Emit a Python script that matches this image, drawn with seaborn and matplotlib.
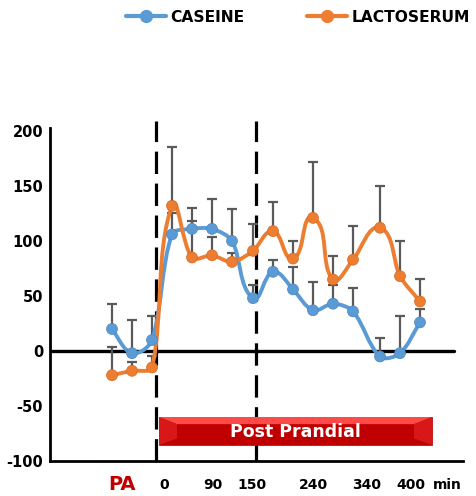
import numpy as np
import matplotlib
matplotlib.use("Agg")
import matplotlib.pyplot as plt
import seaborn as sns
import pandas as pd
from matplotlib.path import Path
from matplotlib.patches import PathPatch, Rectangle, Polygon
from matplotlib.lines import Line2D
import matplotlib.transforms as mtransforms

sns.set_style("white")
plt.rcParams['font.family'] = ['DejaVu Sans']
plt.rcParams['text.color'] = 'black'
plt.rcParams['ytick.color'] = 'black'
plt.rcParams['xtick.color'] = 'black'

# ---- data ----
sample_pos = [0, 1, 2, 3, 4, 5, 6, 7.05, 8.05, 9.05, 10.05, 11.05, 12.05, 13.4, 14.4, 15.4]
caseine = [20, -2, 10, 106, 111, 111, 100, 48, 72, 56, 37, 43, 36, -5, -2, 26]
caseine_err = [23, 30, 22, 19, 19, 27, 29, 12, 11, 20, 26, 17, 21, 17, 34, 12]
lacto = [-22, -18, -15, 132, 85, 87, 81, 91, 109, 84, 121, 65, 83, 112, 68, 45]
lacto_err = [26, 8, 10, 53, 33, 17, 8, 24, 26, 16, 51, 21, 31, 38, 32, 20]
series_names = ["CASEINE", "LACTOSERUM"]
tick_pos = [2.2, 5, 7.2, 10.3, 13.55, 15.8]
label_pos = [0.5, 2.6, 5.05, 7.0, 10.05, 12.75, 14.95, 16.75]
label_txt = ["PA", "0", "90", "150", "240", "340", "400", "min"]
yticks = [-100, -50, 0, 50, 100, 150, 200]
phase_lines = [2.2, 7.2]
banner_text = "Post Prandial"

blue = "#5B9BD5"
orange = "#ED7D31"
gray = "#5A5A5A"

df = pd.DataFrame({
    "x": sample_pos * 2,
    "y": caseine + lacto,
    "serie": [series_names[0]] * len(caseine) + [series_names[1]] * len(lacto),
})

fig = plt.figure(figsize=(4.77, 4.96), dpi=100)
ax = fig.add_axes([50 / 477, 1 - 461 / 496, (463 - 50) / 477, (461 - 128) / 496])
ax.set_xlim(-3.1, 17.55)
ax.set_ylim(-100, 202.7)


def smooth_path(xs, ys, s=0.3):
    # smoothing computed in display space, control distance proportional to segment length
    pts = ax.transData.transform(np.column_stack([xs, ys]).astype(float))
    n = len(pts)
    tang = []
    for i in range(n):
        a = pts[i - 1] if i > 0 else pts[i]
        b = pts[i + 1] if i < n - 1 else pts[i]
        d = b - a
        tang.append(d / (np.hypot(*d) + 1e-9))
    verts = [pts[0]]
    codes = [Path.MOVETO]
    for i in range(n - 1):
        p1, p2 = pts[i], pts[i + 1]
        L = np.hypot(*(p2 - p1))
        c1 = p1 + tang[i] * L * s
        c2 = p2 - tang[i + 1] * L * s
        verts += [c1, c2, p2]
        codes += [Path.CURVE4] * 3
    verts = ax.transData.inverted().transform(np.array(verts))
    return Path(verts, codes)


# error bars (upper only)
for vals, errs in [(caseine, caseine_err), (lacto, lacto_err)]:
    ax.errorbar(sample_pos, vals, yerr=[np.zeros(len(errs)), errs], fmt='none',
                ecolor=gray, elinewidth=1.6, capsize=3.5, capthick=1.6, zorder=2)

# smooth lines
for vals, col in [(caseine, blue), (lacto, orange)]:
    ax.add_patch(PathPatch(smooth_path(sample_pos, vals), facecolor='none',
                           edgecolor=col, lw=2.8, zorder=3, capstyle='round'))

# markers
sns.scatterplot(data=df, x="x", y="y", hue="serie", palette=[blue, orange],
                s=62, linewidth=0.5, ax=ax, zorder=4, legend=False)
ax.collections[-1].set_edgecolor(["#4A86BE"] * len(caseine) + ["#D56A20"] * len(lacto))

# zero line
ax.axhline(0, xmin=0, xmax=(454 - 50) / 413, color='black', lw=2.4, zorder=1)

# dashed phase lines
ax.vlines(phase_lines, -100, 209, colors='black', linestyles=(0, (7, 3)),
          lw=2.3, clip_on=False, zorder=1)

# banner
bx0, bx1, by0, by1 = 2.35, 16.0, -85.5, -60
ax.add_patch(Rectangle((bx0, by0), bx1 - bx0, by1 - by0, facecolor="#C00000",
                       edgecolor="#B00000", lw=0.5, zorder=5))
ax.add_patch(Polygon([(bx0, by1), (bx1, by1), (bx1 - 0.9, by1 - 6.5), (bx0 + 0.9, by1 - 6.5)],
                     closed=True, facecolor="#FF4A4A", edgecolor='none', zorder=6))
ax.add_patch(Polygon([(bx0, by0), (bx0, by1), (bx0 + 0.9, by1 - 6.5), (bx0 + 0.9, by0 + 6)],
                     closed=True, facecolor="#D81818", edgecolor='none', zorder=6))
ax.add_patch(Polygon([(bx1, by0), (bx1, by1), (bx1 - 0.9, by1 - 6.5), (bx1 - 0.9, by0 + 6)],
                     closed=True, facecolor="#D81818", edgecolor='none', zorder=6))
ax.text((bx0 + bx1) / 2, (by0 + by1) / 2 - 1, banner_text, color='white', fontsize=12.5,
        fontweight='bold', ha='center', va='center', zorder=7)

# spines
sns.despine(ax=ax, top=True, right=True)
for side in ["left", "bottom"]:
    ax.spines[side].set_linewidth(2.0)
    ax.spines[side].set_color('black')

ax.set_yticks(yticks)
ax.set_yticklabels([str(v) for v in yticks], fontsize=10.5, fontweight='bold', color='black')
ax.tick_params(axis='y', length=0, pad=5)
ax.set_xticks(tick_pos)
ax.set_xticklabels([""] * len(tick_pos))
ax.tick_params(axis='x', direction='in', length=8, width=2.2, color='black')
ax.set_xlabel("")
ax.set_ylabel("")

trans = mtransforms.blended_transform_factory(ax.transData, ax.transAxes)
for xp, t in zip(label_pos, label_txt):
    if t == "PA":
        ax.text(xp, -0.072, t, transform=trans, ha='center', va='center',
                fontsize=14, fontweight='heavy', color='#C00000')
    else:
        ax.text(xp, -0.072, t, transform=trans, ha='center', va='center',
                fontsize=10, fontweight='bold', color='black')

# legend
handles = [Line2D([0], [0], color=c, lw=3, marker='o', markersize=8.5,
                  markerfacecolor=c, markeredgecolor=c) for c in (blue, orange)]
leg = fig.legend(handles, series_names, loc='center', bbox_to_anchor=(298 / 477, 1 - 17 / 496),
                 ncol=2, frameon=False, handlelength=2.6, handletextpad=0.3, columnspacing=4.0,
                 prop={'weight': 'bold', 'size': 11.2})
for txt in leg.get_texts():
    txt.set_color('black')

fig.savefig("out.png", dpi=100)
